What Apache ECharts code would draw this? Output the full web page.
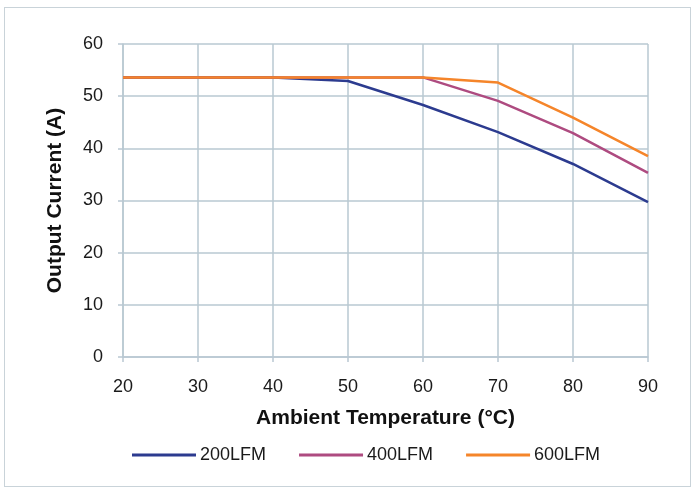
<!DOCTYPE html>
<html><head><meta charset="utf-8">
<script src="https://cdn.jsdelivr.net/npm/echarts@6/dist/echarts.min.js"></script>
<style>html,body{margin:0;padding:0;background:#fff}#c{width:696px;height:491px}
#frame{position:absolute;left:4px;top:7px;width:687px;height:480px;border:1px solid #c9d3d9;box-sizing:border-box;pointer-events:none}</style>
</head><body><div id="c"></div><div id="frame"></div>
<script>
const temps = [20, 30, 40, 50, 60, 70, 80, 90];
const lfm200 = [53.6, 53.6, 53.6, 52.9, 48.3, 43.1, 37.0, 29.7];
const lfm400 = [53.6, 53.6, 53.6, 53.6, 53.6, 49.1, 42.9, 35.3];
const lfm600 = [53.6, 53.6, 53.6, 53.6, 53.6, 52.6, 45.9, 38.5];
const seriesNames = ['200LFM', '400LFM', '600LFM'];
const colors = ['#2c3b8f', '#ae4b80', '#f5852a'];

const chart = echarts.init(document.getElementById('c'));
const gridColor = '#b9c8d2';
const mk = (name, vals, color) => ({
  name, type: 'line', data: temps.map((t, i) => [t, vals[i]]),
  showSymbol: false, symbol: 'none',
  lineStyle: { color, width: 2.5 }, itemStyle: { color }
});
chart.setOption({
  animation: false,
  grid: { left: 123, right: 48, top: 44, bottom: 134 },
  legend: {
    top: 441, left: 127, itemGap: 33, itemWidth: 64, itemHeight: 3,
    icon: 'rect',
    textStyle: { fontFamily: 'Liberation Sans', fontSize: 18, color: '#1a1a1a', padding: [0, 0, 0, -1] },
    data: seriesNames
  },
  xAxis: {
    type: 'value', min: 20, max: 90, interval: 10,
    name: 'Ambient Temperature (°C)', nameLocation: 'middle', nameGap: 51,
    nameTextStyle: { fontFamily: 'Liberation Sans', fontSize: 21, fontWeight: 'bold', color: '#111' },
    axisLine: { show: true, lineStyle: { color: gridColor, width: 1.5 } },
    axisTick: { show: true, length: 5, lineStyle: { color: gridColor, width: 1.5 } },
    axisLabel: { fontFamily: 'Liberation Sans', fontSize: 18, color: '#1a1a1a', margin: 21 },
    splitLine: { show: true, lineStyle: { color: gridColor, width: 1.5 } }
  },
  yAxis: {
    type: 'value', min: 0, max: 60, interval: 10,
    name: 'Output Current (A)', nameLocation: 'middle', nameGap: 57,
    nameTextStyle: { fontFamily: 'Liberation Sans', fontSize: 21, fontWeight: 'bold', color: '#111' },
    axisLine: { show: true, lineStyle: { color: gridColor, width: 1.5 } },
    axisTick: { show: true, length: 5, lineStyle: { color: gridColor, width: 1.5 } },
    axisLabel: { fontFamily: 'Liberation Sans', fontSize: 18, color: '#1a1a1a', margin: 20 },
    splitLine: { show: true, lineStyle: { color: gridColor, width: 1.5 } }
  },
  series: [
    mk(seriesNames[0], lfm200, colors[0]),
    mk(seriesNames[1], lfm400, colors[1]),
    mk(seriesNames[2], lfm600, colors[2])
  ]
});
</script></body></html>
